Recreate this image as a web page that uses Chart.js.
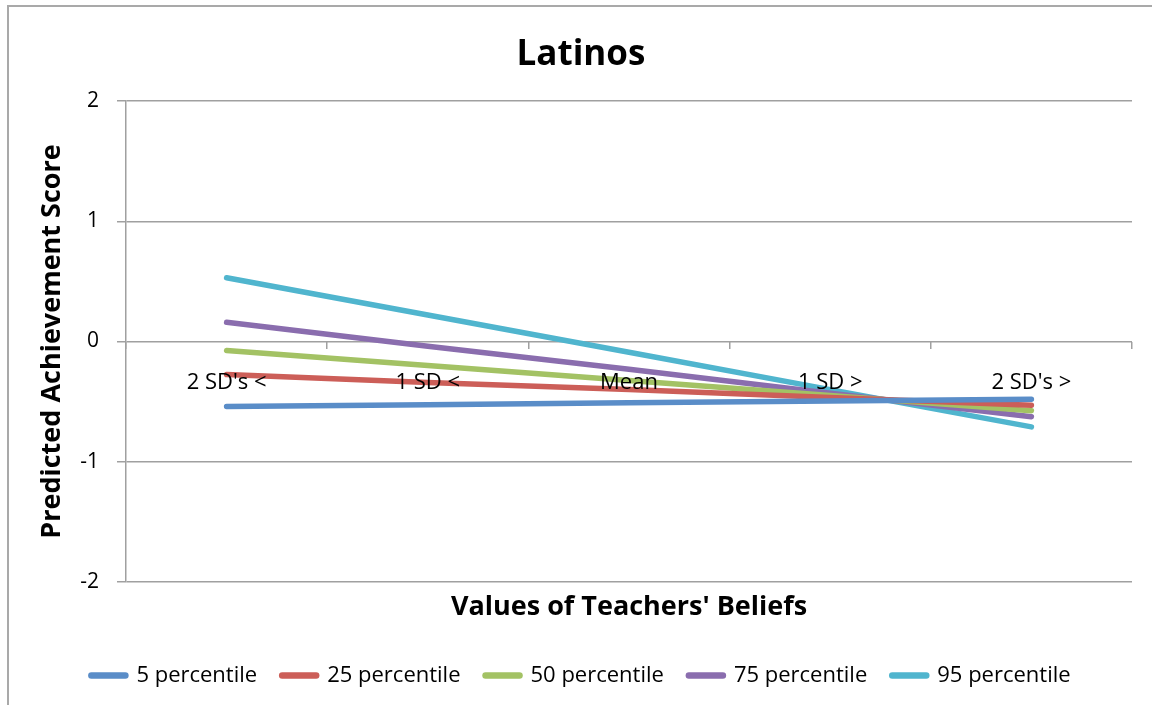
<!DOCTYPE html>
<html>
<head>
<meta charset="utf-8">
<script src="https://cdn.jsdelivr.net/npm/chart.js@4.4.1/dist/chart.umd.min.js"></script>
<style>
  html, body { margin: 0; padding: 0; background: #ffffff; }
  body { width: 1152px; height: 705px; position: relative; overflow: hidden; }
  #frame { position: absolute; left: 7px; top: 5px; width: 1200px; height: 760px;
           border-left: 2px solid #a9a9a9; border-top: 2px solid #a9a9a9; }
  #wrap { position: absolute; left: 0; top: 0; width: 1152px; height: 705px; }
</style>
</head>
<body>
<div id="frame"></div>
<div id="wrap"><canvas id="c" width="1152" height="705"></canvas></div>
<script>
const categories = ["2 SD's <", "1 SD <", "Mean", "1 SD >", "2 SD's >"];
const seriesNames = ["5 percentile", "25 percentile", "50 percentile", "75 percentile", "95 percentile"];
const p5  = [-0.54, -0.525, -0.51, -0.495, -0.48];
const p25 = [-0.275, -0.34, -0.40, -0.465, -0.53];
const p50 = [-0.075, -0.20, -0.325, -0.45, -0.575];
const p75 = [0.16, -0.04, -0.23, -0.43, -0.625];
const p95 = [0.53, 0.22, -0.09, -0.40, -0.71];
const yTicks = [-2, -1, 0, 1, 2];
const colors = ["#5A8DC8", "#CC5E58", "#A3C264", "#8A6DAE", "#50B5CE"];

const seriesValues = [p5, p25, p50, p75, p95];
const FONT = "'Open Sans', 'Noto Sans', sans-serif";
const GRID = "#a0a0a0";

const datasets = seriesValues.map((vals, i) => ({
  label: seriesNames[i],
  data: vals,
  borderColor: colors[i],
  backgroundColor: colors[i],
  borderWidth: 5.5,
  borderCapStyle: 'round',
  pointRadius: 0,
  pointHoverRadius: 0,
  tension: 0,
  fill: false,
  xAxisID: 'x',
  yAxisID: 'y'
}));

new Chart(document.getElementById('c'), {
  type: 'line',
  data: { labels: categories, datasets: datasets },
  options: {
    responsive: false,
    animation: false,
    layout: { padding: { left: 30, right: 20, top: 0, bottom: 8.5 } },
    plugins: {
      title: {
        display: true,
        text: 'Latinos',
        color: '#000',
        font: { family: FONT, size: 35, weight: 'bold', lineHeight: 1.2 },
        padding: { top: 34, bottom: 25 }
      },
      legend: {
        display: true,
        position: 'bottom',
        labels: {
          usePointStyle: true,
          pointStyle: 'line',
          pointStyleWidth: 34,
          color: '#000',
          font: { family: FONT, size: 22 },
          padding: 25,
          generateLabels: (chart) => Chart.defaults.plugins.legend.labels.generateLabels(chart)
            .map(l => Object.assign(l, { lineWidth: 6.5, lineCap: 'round' }))
        }
      },
      tooltip: { enabled: false }
    },
    scales: {
      x: {
        type: 'category',
        position: { y: 0 },
        offset: true,
        grid: { display: true, drawOnChartArea: false, drawTicks: true, tickLength: 7, color: GRID, lineWidth: 1.5, offset: true },
        border: { display: false },
        ticks: { z: 1, color: '#000', font: { family: FONT, size: 22, lineHeight: 1.2 }, padding: 21.5, maxRotation: 0, autoSkip: false }
      },
      x2: {
        type: 'category',
        position: 'bottom',
        labels: categories,
        offset: true,
        grid: { display: false, drawTicks: false },
        border: { display: false },
        ticks: { display: false },
        title: {
          display: true,
          text: "Values of Teachers' Beliefs",
          color: '#000',
          font: { family: FONT, size: 27, weight: 'bold', lineHeight: 1.2 },
          padding: { top: 8.8, bottom: 16.3 }
        }
      },
      y: {
        type: 'linear',
        position: 'left',
        min: -2,
        max: 2,
        afterFit: (s) => { s.width = 96; },
        afterBuildTicks: (s) => { s.ticks = yTicks.map(v => ({ value: v })); },
        grid: { color: GRID, lineWidth: 1.5, tickLength: 9, drawTicks: true },
        border: { display: true, color: GRID, width: 1.5 },
        ticks: { color: '#000', font: { family: FONT, size: 21 }, padding: 18 },
        title: {
          display: true,
          text: 'Predicted Achievement Score',
          color: '#000',
          font: { family: FONT, size: 27, weight: 'bold', lineHeight: 1.2 },
          padding: { top: 5.8, bottom: 0 }
        }
      }
    }
  }
});
</script>
</body>
</html>
